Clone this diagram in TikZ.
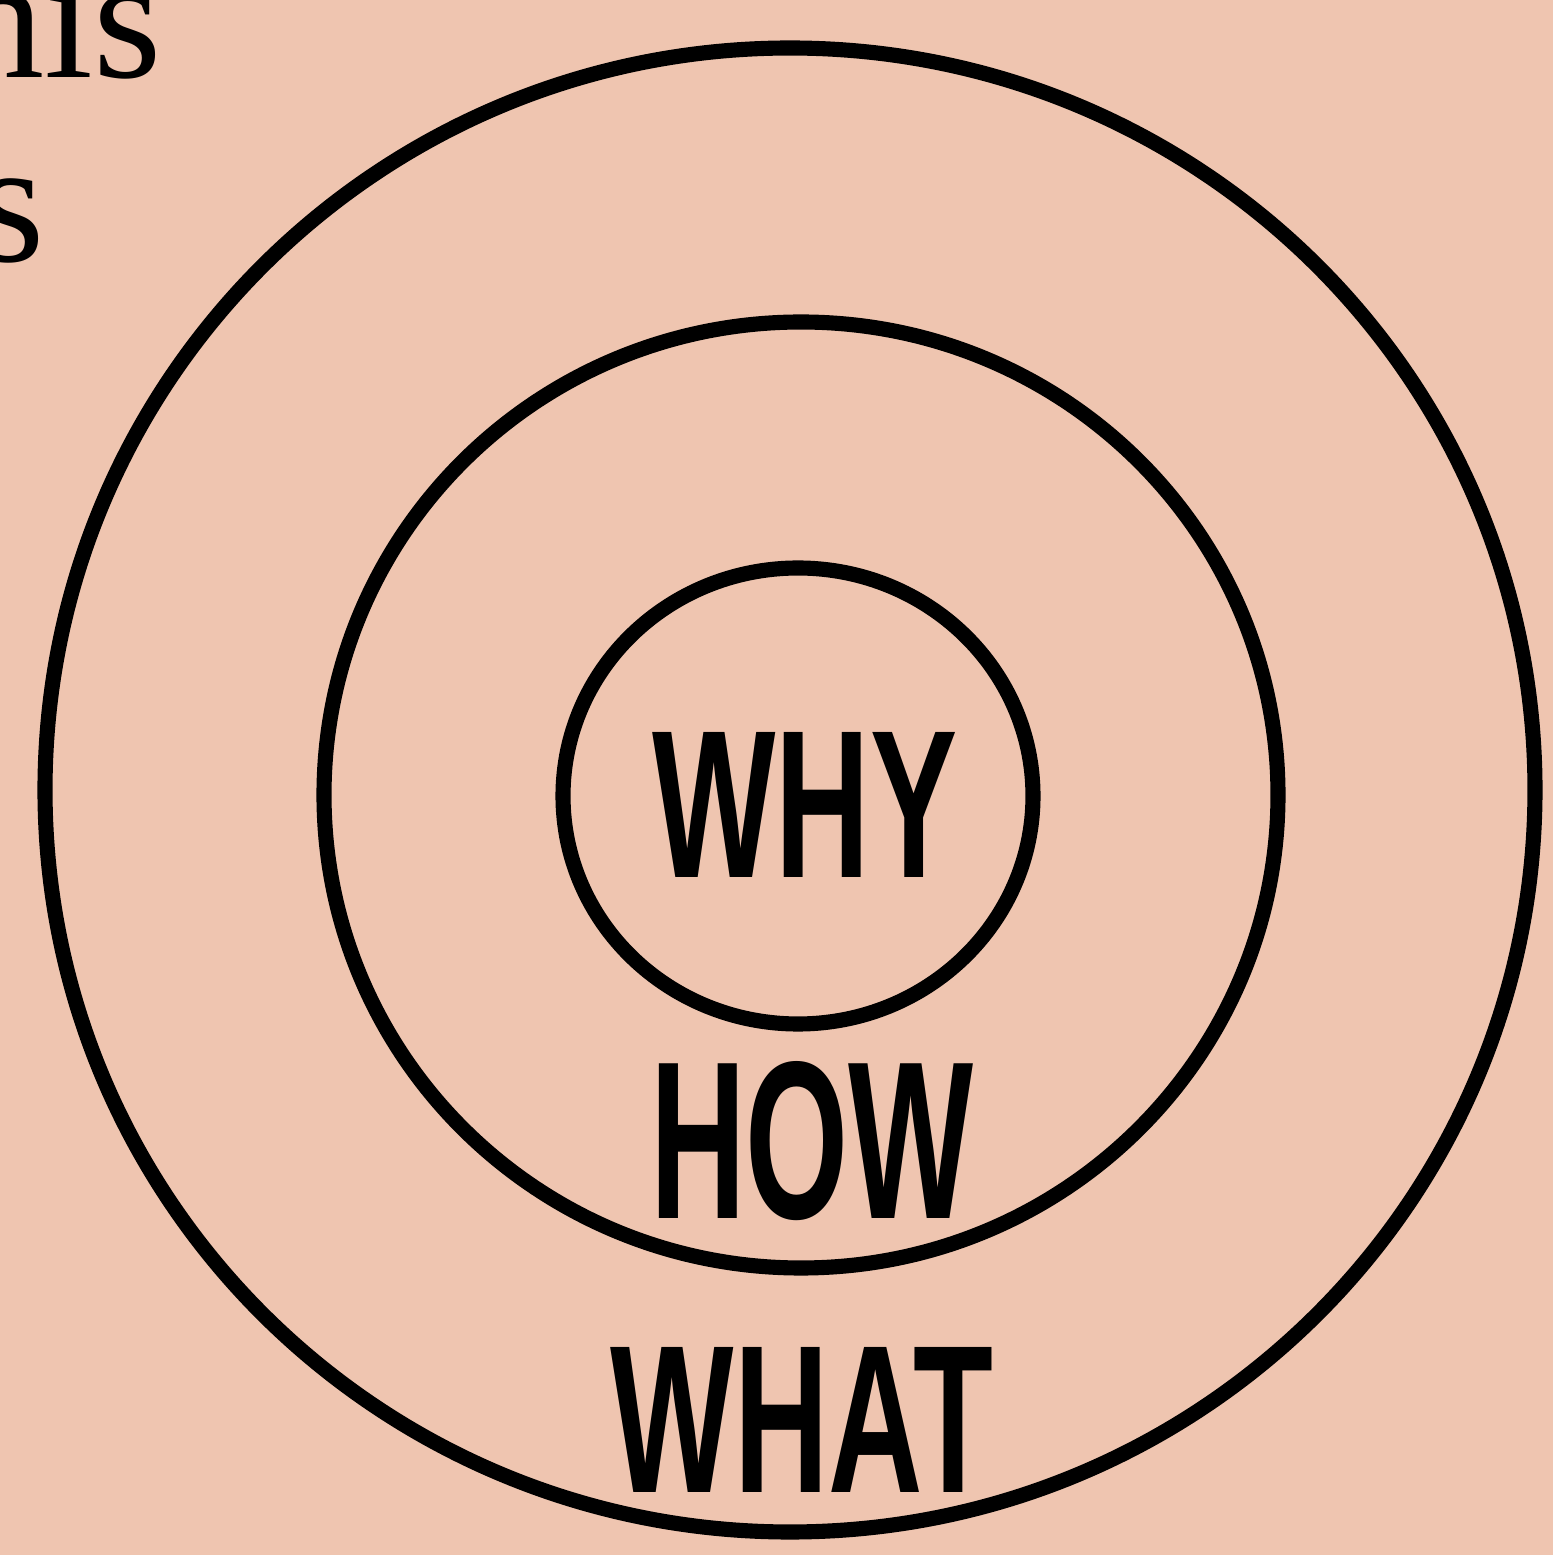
\documentclass[tikz,border=0pt]{standalone}
\usepackage{fontspec}
\setmainfont{Liberation Serif}
\newfontfamily\handfont{Liberation Sans}
\definecolor{peach}{RGB}{239,197,176}
\begin{document}
\begin{tikzpicture}[x=1cm,y=1cm,
  every node/.style={inner sep=0pt,outer sep=0pt},
  ring/.style={draw=black,line width=4.3pt},
  word/.style={font=\handfont\bfseries\fontsize{60}{60}\selectfont,xscale=0.62},
  cutoff/.style={font=\fontsize{50}{50}\selectfont,anchor=base east}]
\fill[peach] (0,0) rectangle (15.53,15.55);
\useasboundingbox (0,0) rectangle (15.53,15.55);
\clip (0,0) rectangle (15.53,15.55);
% running text cut off at the left edge
\node[cutoff] (line1) at (1.62,14.77) {this};
\node[cutoff] (line2) at (0.45,12.93) {is};
% the three rings
\draw[ring] (7.90,7.65) ellipse (7.45 and 7.42);
\draw[ring] (8.01,7.60) ellipse (4.77 and 4.73);
\draw[ring] (7.98,7.59) ellipse (2.35 and 2.28);
\node[word] (why) at (8.05,7.50) {WHY};
\node[word,font=\handfont\bfseries\fontsize{64}{64}\selectfont,xscale=0.95] (how) at (8.12,4.14) {HOW};
\node[word] (what) at (8.02,1.35) {WHAT};
\end{tikzpicture}
\end{document}
